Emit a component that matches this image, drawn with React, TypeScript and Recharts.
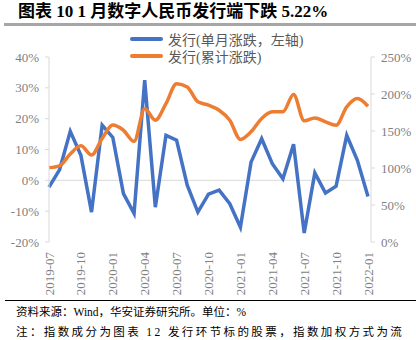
import { LineChart, Line, XAxis, YAxis, ReferenceLine } from 'recharts'

const months = [
  '2019-07', '2019-08', '2019-09', '2019-10', '2019-11', '2019-12',
  '2020-01', '2020-02', '2020-03', '2020-04', '2020-05', '2020-06',
  '2020-07', '2020-08', '2020-09', '2020-10', '2020-11', '2020-12',
  '2021-01', '2021-02', '2021-03', '2021-04', '2021-05', '2021-06',
  '2021-07', '2021-08', '2021-09', '2021-10', '2021-11', '2021-12',
  '2022-01',
]

// 发行(单月涨跌，左轴), %
const monthlyChange = [
  -2.2, 3.5, 15.9, 8.1, -10.3, 17.9, 13.9, -4.3, -10.7, 32.5, -8.7, 14.6,
  13.0, -1.6, -10.3, -4.5, -3.2, -7.6, -15.2, 5.9, 13.5, 5.4, 0.5, 11.7,
  -17.1, 2.4, -4.1, -1.9, 14.6, 6.5, -5.22,
]

// 发行(累计涨跌), %
const cumulativeChange = [
  100.5, 103, 119, 130, 117.5, 140, 158, 151, 136, 180, 164.6, 187,
  214, 209.6, 189.4, 184.9, 178.1, 164.6, 138.6, 148.9, 166.9, 175.9, 175.9, 199.3,
  163.7, 167.7, 162.4, 157.9, 182.6, 193.9, 183.5,
]

const leftTicks = [-20, -10, 0, 10, 20, 30, 40]
const rightTicks = [0, 50, 100, 150, 200, 250]

const data = months.map((m, i) => ({
  month: m,
  monthly: monthlyChange[i],
  cumulative: cumulativeChange[i],
}))

const font = '"Liberation Serif", "Noto Sans CJK SC", serif'
const blue = '#4472c4'
const orange = '#ed7d31'
const axisGray = '#d9d9d9'
const tickGray = '#7f7f7f'

function MonthTick({ x, y, payload }: { x: number; y: number; payload: { value: string } }) {
  return (
    <text
      x={x}
      y={y}
      transform={`rotate(-90 ${x} ${y})`}
      textAnchor="end"
      dy="0.35em"
      fill={tickGray}
      fontSize={13}
      fontFamily={font}
    >
      {payload.value}
    </text>
  )
}

export default function App() {
  return (
    <div
      style={{
        position: 'absolute',
        left: 0,
        top: 0,
        width: 416,
        height: 340,
        background: '#fff',
        overflow: 'hidden',
        fontFamily: font,
      }}
    >
      <LineChart
        width={416}
        height={300}
        data={data}
        margin={{ top: 57, right: 0, bottom: 0, left: 9 }}
      >
        <XAxis
          dataKey="month"
          interval={2}
          axisLine={false}
          tickLine={false}
          tickSize={0}
          tickMargin={10}
          height={58}
          padding={{ left: 0, right: 3 }}
          tick={MonthTick}
        />
        <YAxis
          yAxisId="left"
          domain={[-20, 40]}
          ticks={leftTicks}
          width={40}
          stroke={axisGray}
          tickSize={4}
          tickMargin={6}
          tick={{ fill: tickGray, fontSize: 13, fontFamily: font }}
          tickFormatter={(v) => `${v}%`}
        />
        <YAxis
          yAxisId="right"
          orientation="right"
          domain={[0, 250]}
          ticks={rightTicks}
          width={45}
          stroke={axisGray}
          tickSize={4}
          tickMargin={6}
          tick={{ fill: tickGray, fontSize: 13, fontFamily: font }}
          tickFormatter={(v) => `${v}%`}
        />
        <ReferenceLine yAxisId="left" y={0} stroke={axisGray} strokeWidth={1} />
        <Line
          yAxisId="left"
          type="linear"
          dataKey="monthly"
          stroke={blue}
          strokeWidth={3.5}
          dot={false}
          isAnimationActive={false}
        />
        <Line
          yAxisId="right"
          type="monotone"
          dataKey="cumulative"
          stroke={orange}
          strokeWidth={3.5}
          dot={false}
          isAnimationActive={false}
        />
      </LineChart>

      <div
        style={{
          position: 'absolute',
          left: 18,
          top: 2,
          fontSize: 17,
          fontWeight: 'bold',
          color: '#000',
          whiteSpace: 'nowrap',
          lineHeight: '20px',
        }}
      >
        图表 10 1 月数字人民币发行端下跌 5.22%
      </div>
      <div style={{ position: 'absolute', left: 4, top: 23, width: 412, height: 2.5, background: '#a6a6a6' }} />

      <div style={{ position: 'absolute', left: 130, top: 31, fontSize: 14, color: '#595959' }}>
        {[
          { name: '发行(单月涨跌，左轴)', color: blue },
          { name: '发行(累计涨跌)', color: orange },
        ].map((d) => (
          <div key={d.name} style={{ display: 'flex', alignItems: 'center', height: 16.5, whiteSpace: 'nowrap' }}>
            <span style={{ width: 33, height: 4, background: d.color, borderRadius: 2, marginRight: 5 }} />
            {d.name}
          </div>
        ))}
      </div>

      <div style={{ position: 'absolute', left: 5, top: 300, width: 411, height: 1, background: '#000' }} />
      <div
        style={{
          position: 'absolute',
          left: 16,
          top: 304,
          fontSize: 11.5,
          lineHeight: '16px',
          color: '#000',
          whiteSpace: 'nowrap',
        }}
      >
        资料来源：Wind，华安证券研究所。单位：%
      </div>
      <div
        style={{
          position: 'absolute',
          left: 16,
          top: 324,
          fontSize: 11.5,
          lineHeight: '16px',
          color: '#000',
          whiteSpace: 'nowrap',
          letterSpacing: 2.4,
        }}
      >
        注：指数成分为图表 12 发行环节标的股票，指数加权方式为流
      </div>
    </div>
  )
}
